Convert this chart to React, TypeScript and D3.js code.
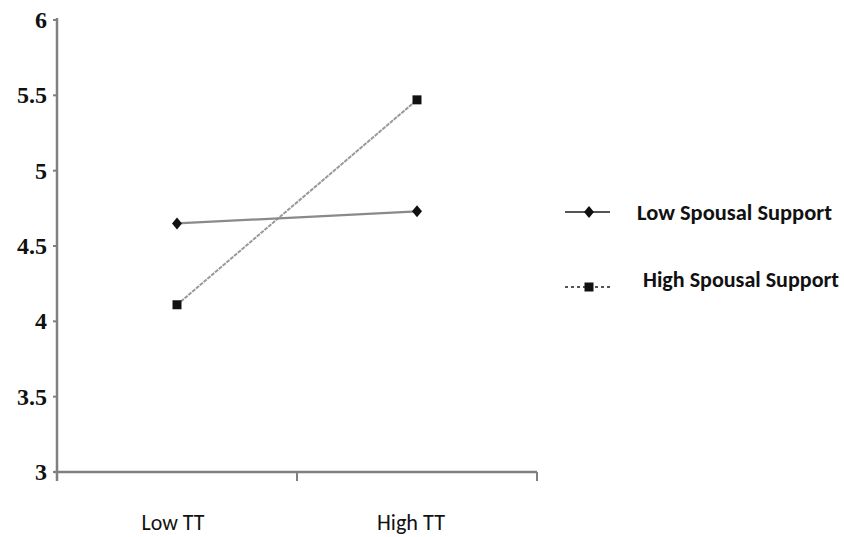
import React from "react";
import * as d3 from "d3";

const categories = ["Low TT", "High TT"];
const lowSpousal = [4.65, 4.73];
const highSpousal = [4.11, 5.47];
const yTicks = [3, 3.5, 4, 4.5, 5, 5.5, 6];
const seriesNames = ["Low Spousal Support", "High Spousal Support"];

function diamondPath(w: number, h: number) {
  const p = d3.path();
  p.moveTo(0, -h / 2);
  p.lineTo(w / 2, 0);
  p.lineTo(0, h / 2);
  p.lineTo(-w / 2, 0);
  p.closePath();
  return p.toString();
}

export default function App() {
  const W = 844, H = 537;
  const x = d3.scaleBand<string>().domain(categories).range([57, 537]);
  const y = d3.scaleLinear().domain([3, 6]).range([472, 20]);
  const cx = (c: string) => (x(c) as number) + x.bandwidth() / 2;
  const line = d3.line<[string, number]>().x(d => cx(d[0])).y(d => y(d[1]));
  const lowData = categories.map((c, i) => [c, lowSpousal[i]] as [string, number]);
  const highData = categories.map((c, i) => [c, highSpousal[i]] as [string, number]);
  const axisColor = "#808080";
  const sans = "Carlito, 'Open Sans', 'Noto Sans', sans-serif";
  const diamond = diamondPath(10, 12);
  const square = d3.symbol().type(d3.symbolSquare).size(81)();
  const xEdges = [57, ...categories.slice(1).map(c => x(c) as number), 537];
  const xLabelWidths = [63, 68];
  const legendWidths = [195, 196];
  return (
    <svg width={W} height={H} style={{ position: "absolute", left: 0, top: 0, background: "#fff" }}>
      {/* y axis */}
      <line x1={57} x2={57} y1={18} y2={481} stroke={axisColor} strokeWidth={2.5} />
      {yTicks.map(t => (
        <g key={t}>
          <line x1={53} x2={57} y1={y(t)} y2={y(t)} stroke={axisColor} strokeWidth={2} />
          <text x={47} y={y(t)} dy="0.33em" textAnchor="end" fontFamily="'Liberation Serif', 'DejaVu Serif', serif" fontWeight="bold" fontSize={24} fill="#111">{t}</text>
        </g>
      ))}
      {/* x axis */}
      <line x1={54} x2={537} y1={472} y2={472} stroke={axisColor} strokeWidth={2.5} />
      {xEdges.map((e, i) => (
        <line key={i} x1={e} x2={e} y1={472} y2={481} stroke={axisColor} strokeWidth={2} />
      ))}
      {categories.map((c, i) => (
        <text key={c} x={cx(c) - 4 - 2 * i} y={530} textAnchor="middle" fontFamily={sans} fontSize={23} fill="#111"
          textLength={xLabelWidths[i]} lengthAdjust="spacingAndGlyphs">{c}</text>
      ))}
      {/* series */}
      <path d={line(highData) as string} fill="none" stroke="#999" strokeWidth={2} strokeDasharray="4,1" />
      <path d={line(lowData) as string} fill="none" stroke="#8a8a8a" strokeWidth={2.2} />
      {lowData.map((d, i) => (
        <path key={i} d={diamond} transform={`translate(${cx(d[0])},${y(d[1])})`} fill="#111" />
      ))}
      {highData.map((d, i) => (
        <path key={i} d={square as string} transform={`translate(${cx(d[0])},${y(d[1])})`} fill="#111" />
      ))}
      {/* legend */}
      <line x1={565} x2={610} y1={212} y2={212} stroke="#555" strokeWidth={2} />
      <path d={diamond} transform="translate(589,212)" fill="#111" />
      <text x={637} y={220} fontFamily={sans} fontWeight="bold" fontSize={22} fill="#111"
        textLength={legendWidths[0]} lengthAdjust="spacingAndGlyphs">{seriesNames[0]}</text>
      <line x1={565} x2={610} y1={287} y2={287} stroke="#555" strokeWidth={2} strokeDasharray="3,3" />
      <path d={square as string} transform="translate(589,287)" fill="#111" />
      <text x={643} y={287} fontFamily={sans} fontWeight="bold" fontSize={22} fill="#111"
        textLength={legendWidths[1]} lengthAdjust="spacingAndGlyphs">{seriesNames[1]}</text>
    </svg>
  );
}
